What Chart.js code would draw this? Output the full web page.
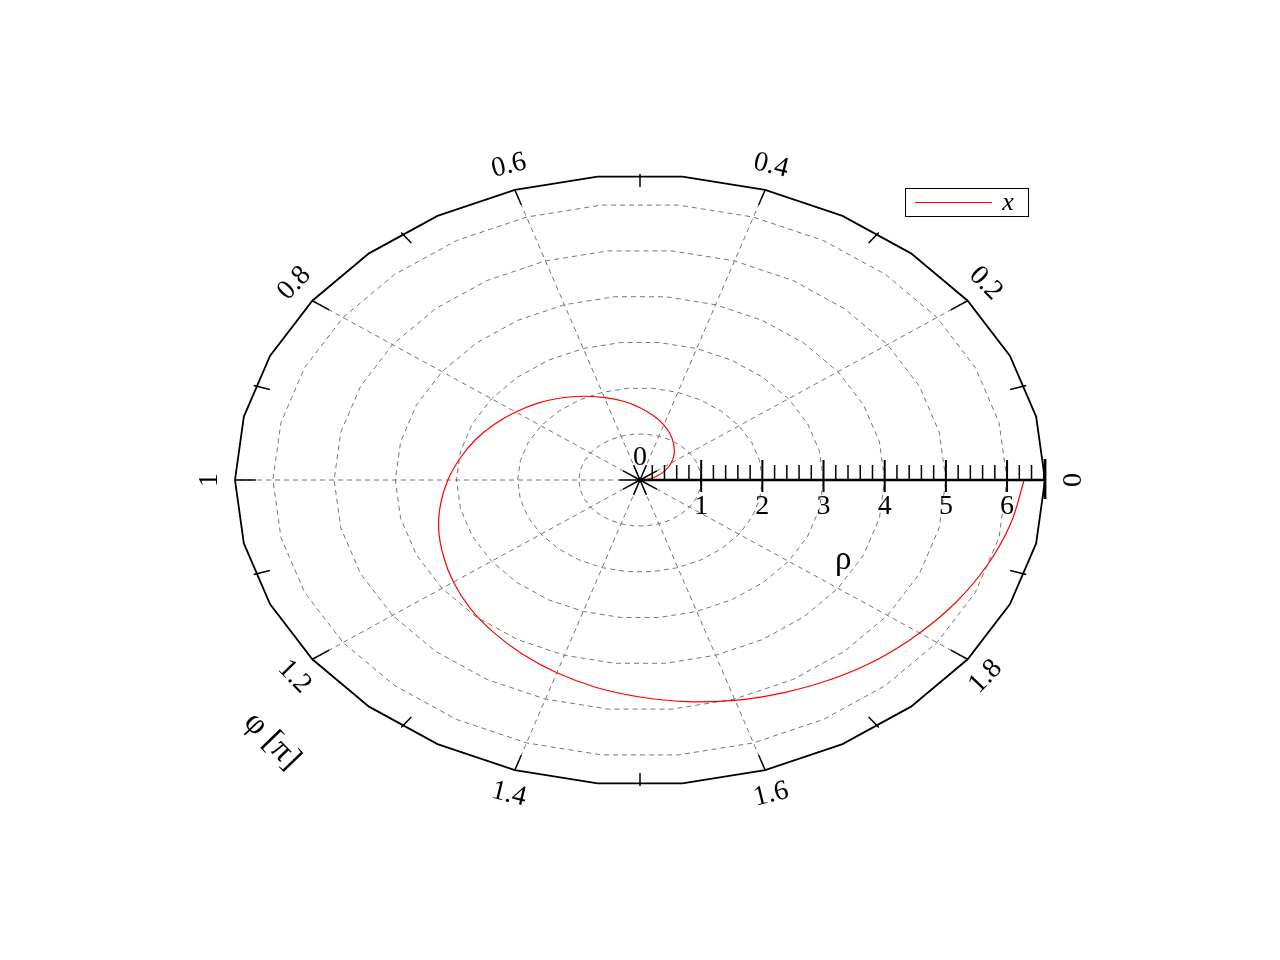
<!DOCTYPE html>
<html><head><meta charset="utf-8">
<script src="https://cdn.jsdelivr.net/npm/chart.js@4/dist/chart.umd.min.js"></script>
<style>html,body{margin:0;padding:0;background:#fff;} canvas{display:block}</style>
</head><body>
<canvas id="c" width="1280" height="960"></canvas>
<script>
// ---- data (angle in units of pi, radius rho) ----
const phiPi = [0,0.05,0.1,0.15,0.2,0.25,0.3,0.35,0.4,0.45,0.5,0.55,0.6,0.65,0.7,0.75,0.8,0.85,0.9,0.95,1,1.05,1.1,1.15,1.2,1.25,1.3,1.35,1.4,1.45,1.5,1.55,1.6,1.65,1.7,1.75,1.8,1.85,1.9,1.95,2];
const rho = [0,0.16,0.31,0.47,0.63,0.79,0.94,1.10,1.26,1.41,1.57,1.73,1.88,2.04,2.20,2.36,2.51,2.67,2.83,2.98,3.14,3.30,3.46,3.61,3.77,3.93,4.08,4.24,4.40,4.56,4.71,4.87,5.03,5.18,5.34,5.50,5.65,5.81,5.97,6.13,6.28];
const seriesLabel = 'x';
const rhoMax = 6.62;
const ringValues = [1,2,3,4,5,6];
const spokeAnglesPi = [0,0.2,0.4,0.6,0.8,1.0,1.2,1.4,1.6,1.8];
const angTickLabels = ['0','0.2','0.4','0.6','0.8','1','1.2','1.4','1.6','1.8'];
const minorAnglesPi = [0.1,0.3,0.5,0.7,0.9,1.1,1.3,1.5,1.7,1.9];
const rhoMajorTicks = [1,2,3,4,5,6];
const rhoTickLabels = ['1','2','3','4','5','6'];
const rhoMinorStep = 0.2;
const angAxisTitle = 'φ [π]';
const radAxisTitle = 'ρ';
const ringSegments = 30;

const toXY = (r, tPi) => ({x: r*Math.cos(tPi*Math.PI), y: r*Math.sin(tPi*Math.PI)});
const polyAngles = Array.from({length: ringSegments+1}, (_, k) => k*2/ringSegments);

const datasets = [];
datasets.push({
  label: seriesLabel,
  data: phiPi.map((t,i) => toXY(rho[i], t)),
  showLine: true, borderColor: '#ff0000', borderWidth: 1.2, pointRadius: 0,
  tension: 0.4, clip: false, fill: false
});
datasets.push({
  label: 'border',
  data: polyAngles.map(t => toXY(rhoMax, t)),
  showLine: true, borderColor: '#000', borderWidth: 1.8, pointRadius: 0, tension: 0, clip: false
});
ringValues.forEach(r => datasets.push({
  label: 'ring'+r,
  data: polyAngles.map(t => toXY(r, t)),
  showLine: true, borderColor: '#767676', borderWidth: 1, borderDash: [5,4], pointRadius: 0, tension: 0, clip: false
}));
spokeAnglesPi.forEach(t => datasets.push({
  label: 'spoke'+t,
  data: [toXY(0, t), toXY(rhoMax, t)],
  showLine: true, borderColor: '#767676', borderWidth: 1, borderDash: [5,4], pointRadius: 0, tension: 0, clip: false
}));

const polarDecor = {
  id: 'polarDecor',
  afterDatasetsDraw(chart) {
    const ctx = chart.ctx, xs = chart.scales.x, ys = chart.scales.y;
    const P = (r, tPi) => [xs.getPixelForValue(r*Math.cos(tPi*Math.PI)), ys.getPixelForValue(r*Math.sin(tPi*Math.PI))];
    const cx = xs.getPixelForValue(0), cy = ys.getPixelForValue(0);
    const a = xs.getPixelForValue(rhoMax) - cx, b = cy - ys.getPixelForValue(rhoMax);
    const line = (p, q) => { ctx.beginPath(); ctx.moveTo(p[0], p[1]); ctx.lineTo(q[0], q[1]); ctx.stroke(); };
    ctx.save();
    ctx.setLineDash([]);
    ctx.strokeStyle = '#000';
    ctx.lineWidth = 1.5;
    spokeAnglesPi.forEach(t => {
      line(P(rhoMax, t), P(rhoMax - 0.34, t));
      line(P(0, t), P(0.34, t));
    });
    minorAnglesPi.forEach(t => line(P(rhoMax + 0.02, t), P(rhoMax - 0.26, t)));
    // rho axis
    const xEnd = xs.getPixelForValue(rhoMax);
    ctx.lineWidth = 2.4;
    line([cx, cy], [xEnd, cy]);
    ctx.lineWidth = 1.5;
    for (let k = 1; k*rhoMinorStep < rhoMax - 0.01; k++) {
      const v = k*rhoMinorStep;
      if (Math.abs(v - Math.round(v)) < 1e-6) continue;
      const px = xs.getPixelForValue(v);
      line([px, cy - 15], [px, cy]);
    }
    ctx.lineWidth = 2;
    rhoMajorTicks.forEach(v => {
      const px = xs.getPixelForValue(v);
      line([px, cy - 20], [px, cy + 12]);
    });
    ctx.lineWidth = 2.8;
    line([xEnd, cy - 21], [xEnd, cy + 19]);

    // text
    ctx.fillStyle = '#000';
    ctx.font = '28px "Liberation Serif", "DejaVu Serif", serif';
    ctx.textAlign = 'center';
    ctx.textBaseline = 'middle';
    rhoMajorTicks.forEach((v, i) => ctx.fillText(rhoTickLabels[i], xs.getPixelForValue(v), cy + 27));
    ctx.fillText('0', cx, cy - 22);

    let rot12 = 0;
    spokeAnglesPi.forEach((tPi, i) => {
      const t = tPi*Math.PI;
      const p = P(rhoMax, tPi);
      let nx = b*Math.cos(t), ny = -a*Math.sin(t);
      const nl = Math.hypot(nx, ny); nx /= nl; ny /= nl;
      const d = 25;
      let ang;
      if (Math.sin(t) > -1e-9) {
        ang = Math.atan2(b*Math.cos(t), a*Math.sin(t));
      } else {
        ang = Math.atan2(-b*Math.cos(t), -a*Math.sin(t));
      }
      if (angTickLabels[i] === '1.2') rot12 = ang;
      ctx.save();
      ctx.translate(p[0] + d*nx, p[1] + d*ny);
      ctx.rotate(ang);
      ctx.fillText(angTickLabels[i], 0, 0);
      ctx.restore();
    });
    ctx.font = '33px "Liberation Serif", "DejaVu Serif", serif';
    ctx.fillText(radAxisTitle, xs.getPixelForValue(3.32), cy + 80);
    // angular axis title
    ctx.save();
    ctx.translate(xs.left + 37, ys.bottom - 44);
    ctx.rotate(rot12);
    ctx.fillText(angAxisTitle, 0, 0);
    ctx.restore();

    // legend
    const bx = xs.right - 140, by = ys.top + 13, bw = 123, bh = 28;
    ctx.lineWidth = 1;
    ctx.strokeStyle = '#000';
    ctx.strokeRect(bx + 0.5, by + 0.5, bw, bh);
    ctx.strokeStyle = '#ff0000';
    ctx.lineWidth = 1.2;
    line([bx + 10, by + bh/2 + 0.5], [bx + 87, by + bh/2 + 0.5]);
    ctx.font = 'italic 26px "Liberation Serif", "DejaVu Serif", serif';
    ctx.fillText(seriesLabel, bx + 103, by + bh/2 + 1);
    ctx.restore();
  }
};

new Chart(document.getElementById('c'), {
  type: 'scatter',
  data: { datasets },
  options: {
    responsive: false,
    animation: false,
    events: [],
    layout: { padding: { left: 235, right: 235, top: 175, bottom: 175 } },
    scales: {
      x: { type: 'linear', min: -rhoMax, max: rhoMax, display: false },
      y: { type: 'linear', min: -rhoMax, max: rhoMax, display: false }
    },
    plugins: { legend: { display: false }, tooltip: { enabled: false } },
    elements: { point: { radius: 0 } }
  },
  plugins: [polarDecor]
});
</script>
</body></html>
